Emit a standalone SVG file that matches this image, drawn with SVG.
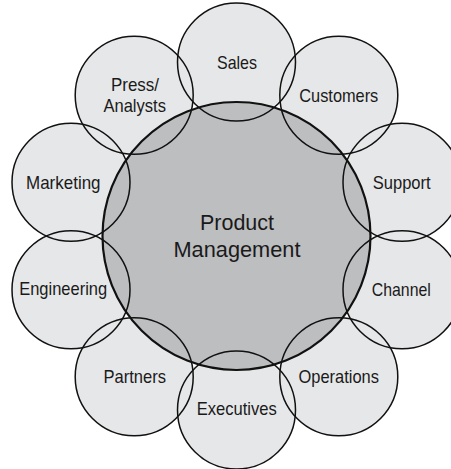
<svg xmlns="http://www.w3.org/2000/svg" xmlns:xlink="http://www.w3.org/1999/xlink" width="451" height="469" viewBox="0 0 451 469">
  <style>
    .disc { fill: #e6e7e8; stroke: none; }
    .ring { fill: none; stroke: #111; stroke-width: 1.5; }
    .core { fill: #bdbec0; stroke: #111; stroke-width: 2.2; }
    text { font-family: "Liberation Sans Narrow", "Liberation Sans", Arial, sans-serif; fill: #1a1a1a; text-anchor: middle; }
    .lbl { font-size: 19px; }
    .big { font-size: 22.5px; }
  </style>
  <defs>
    <!-- satellite circles, r = 59, spaced 36 degrees around (236.5, 236) -->
    <circle id="c-sales" cx="236.5" cy="62" r="59"/>
    <circle id="c-customers" cx="338.8" cy="95.2" r="59"/>
    <circle id="c-support" cx="402" cy="182.2" r="59"/>
    <circle id="c-channel" cx="402" cy="289.8" r="59"/>
    <circle id="c-operations" cx="338.8" cy="376.8" r="59"/>
    <circle id="c-executives" cx="236.5" cy="410" r="59"/>
    <circle id="c-partners" cx="134.2" cy="376.8" r="59"/>
    <circle id="c-engineering" cx="71" cy="289.8" r="59"/>
    <circle id="c-marketing" cx="71" cy="182.2" r="59"/>
    <circle id="c-press" cx="134.2" cy="95.2" r="59"/>
  </defs>

  <rect width="451" height="469" fill="#ffffff"/>

  <!-- light fills of all satellites, painted first so every outline stays visible -->
  <g id="satellite-fills" class="disc">
    <use xlink:href="#c-sales"/>
    <use xlink:href="#c-customers"/>
    <use xlink:href="#c-support"/>
    <use xlink:href="#c-channel"/>
    <use xlink:href="#c-operations"/>
    <use xlink:href="#c-executives"/>
    <use xlink:href="#c-partners"/>
    <use xlink:href="#c-engineering"/>
    <use xlink:href="#c-marketing"/>
    <use xlink:href="#c-press"/>
  </g>

  <!-- central hub -->
  <g id="product-management">
    <circle class="core" cx="236.5" cy="236" r="134"/>
    <text class="big" x="237" y="230" textLength="74" lengthAdjust="spacingAndGlyphs">Product</text>
    <text class="big" x="237" y="256.5" textLength="127" lengthAdjust="spacingAndGlyphs">Management</text>
  </g>

  <!-- satellite outlines and labels -->
  <g id="sales">
    <use class="ring" xlink:href="#c-sales"/>
    <text class="lbl" x="237" y="68.5" textLength="40" lengthAdjust="spacingAndGlyphs">Sales</text>
  </g>
  <g id="customers">
    <use class="ring" xlink:href="#c-customers"/>
    <text class="lbl" x="338.8" y="101.5" textLength="79" lengthAdjust="spacingAndGlyphs">Customers</text>
  </g>
  <g id="support">
    <use class="ring" xlink:href="#c-support"/>
    <text class="lbl" x="401.7" y="188.5" textLength="58" lengthAdjust="spacingAndGlyphs">Support</text>
  </g>
  <g id="channel">
    <use class="ring" xlink:href="#c-channel"/>
    <text class="lbl" x="401.3" y="296" textLength="59" lengthAdjust="spacingAndGlyphs">Channel</text>
  </g>
  <g id="operations">
    <use class="ring" xlink:href="#c-operations"/>
    <text class="lbl" x="338.7" y="382.5" textLength="80.5" lengthAdjust="spacingAndGlyphs">Operations</text>
  </g>
  <g id="executives">
    <use class="ring" xlink:href="#c-executives"/>
    <text class="lbl" x="236.7" y="415" textLength="80" lengthAdjust="spacingAndGlyphs">Executives</text>
  </g>
  <g id="partners">
    <use class="ring" xlink:href="#c-partners"/>
    <text class="lbl" x="134.7" y="382.5" textLength="62.5" lengthAdjust="spacingAndGlyphs">Partners</text>
  </g>
  <g id="engineering">
    <use class="ring" xlink:href="#c-engineering"/>
    <text class="lbl" x="63.2" y="295" textLength="88" lengthAdjust="spacingAndGlyphs">Engineering</text>
  </g>
  <g id="marketing">
    <use class="ring" xlink:href="#c-marketing"/>
    <text class="lbl" x="63.3" y="188.5" textLength="74.5" lengthAdjust="spacingAndGlyphs">Marketing</text>
  </g>
  <g id="press-analysts">
    <use class="ring" xlink:href="#c-press"/>
    <text class="lbl" x="135" y="91" textLength="48" lengthAdjust="spacingAndGlyphs">Press/</text>
    <text class="lbl" x="134.7" y="112" textLength="62.5" lengthAdjust="spacingAndGlyphs">Analysts</text>
  </g>
</svg>
